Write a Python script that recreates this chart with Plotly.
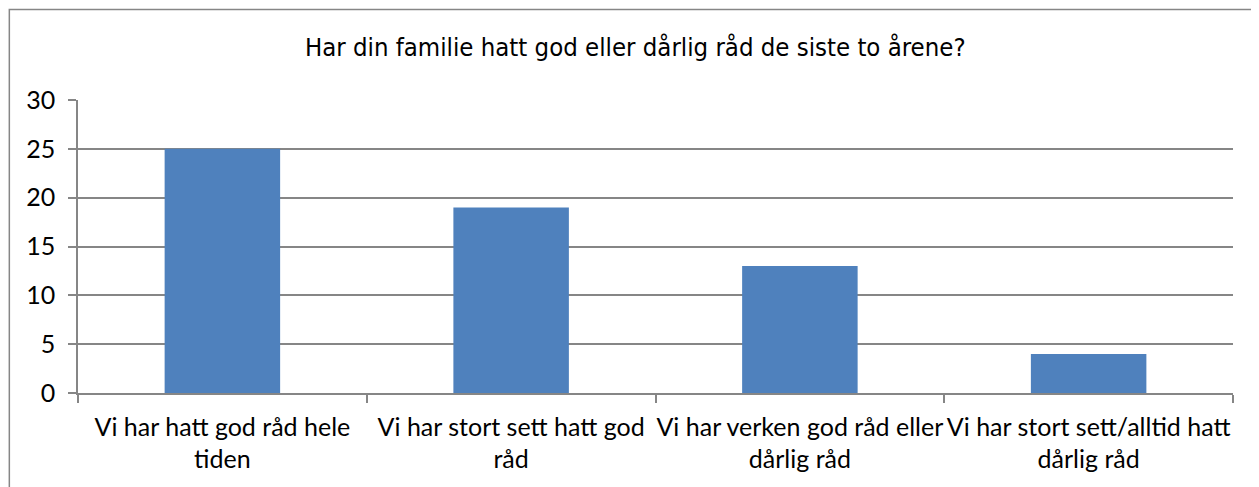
import plotly.graph_objects as go

# survey answers and counts
categories = [
    "Vi har hatt god råd hele<br>tiden",
    "Vi har stort sett hatt god<br>råd",
    "Vi har verken god råd eller<br>dårlig råd",
    "Vi har stort sett/alltid hatt<br>dårlig råd",
]
counts = [25, 19, 13, 4]
title = "Har din familie hatt god eller dårlig råd de siste to årene?"

grey = "#868686"

fig = go.Figure(
    go.Bar(
        x=categories,
        y=counts,
        marker=dict(color="#4F81BD", line=dict(width=0)),
        width=0.4,
    )
)

# the page body adds an 8px offset, so positions below are page px - 8
W, H = 1251, 479
left, right, top, bottom = 69.5, 1225, 91.5, 385


def px_x(p):
    return (p - left) / (right - left)


def px_y(p):
    return (bottom - p) / (bottom - top)


fig.update_layout(
    width=W,
    height=H,
    margin=dict(l=left, r=W - right, t=top, b=H - bottom),
    plot_bgcolor="white",
    paper_bgcolor="white",
    showlegend=False,
    title=dict(
        text=title,
        x=px_x(627),
        xref="paper",
        xanchor="center",
        y=1 - 39 / H,
        yref="container",
        yanchor="middle",
        font=dict(family="Liberation Sans Narrow, Arial Narrow, DejaVu Sans Condensed",
                  size=25.5, color="black"),
    ),
    font=dict(family="Lato, Open Sans, sans-serif", size=25, color="black"),
    shapes=[
        # chart frame (left and top edges visible)
        dict(type="path", xref="paper", yref="paper",
             path=f"M {px_x(0.8)} {px_y(500)} L {px_x(0.8)} {px_y(0.8)} L {px_x(1270)} {px_y(0.8)}",
             line=dict(color=grey, width=1.5)),
    ],
)

fig.update_xaxes(
    showline=True,
    linecolor=grey,
    linewidth=1.5,
    ticks="outside",
    tickson="boundaries",
    ticklen=8,
    tickcolor=grey,
    tickwidth=1.5,
    showgrid=False,
    tickangle=0,
    ticklabelstandoff=11,
    automargin=False,
)
fig.update_yaxes(
    range=[0, 30],
    dtick=5,
    showline=True,
    linecolor=grey,
    linewidth=1.5,
    ticks="outside",
    ticklen=8,
    tickcolor=grey,
    tickwidth=1.5,
    showgrid=True,
    gridcolor=grey,
    gridwidth=1.5,
    zeroline=False,
    ticklabelstandoff=8,
    automargin=False,
)

fig.write_html("out.html")
